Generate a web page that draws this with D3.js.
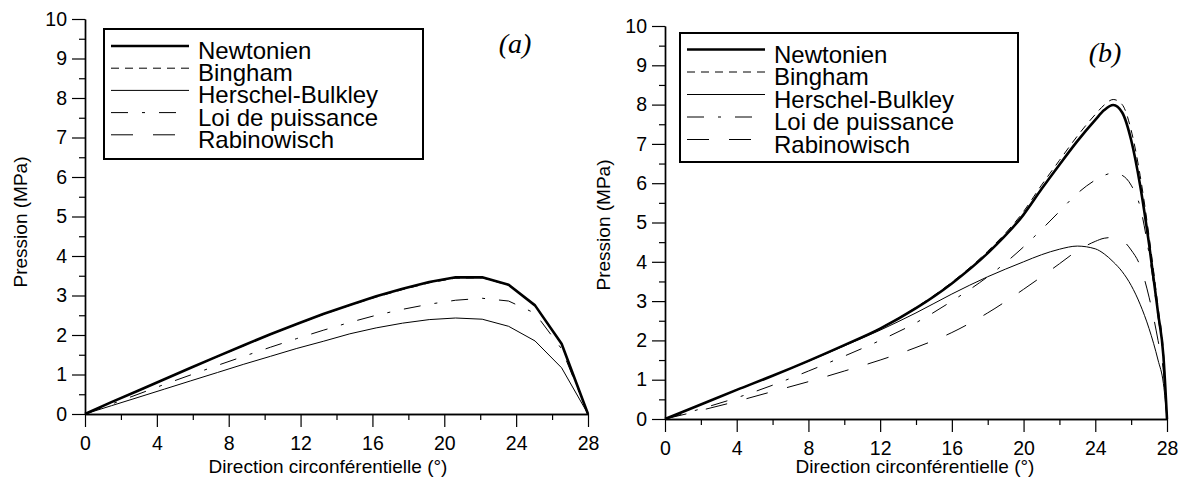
<!DOCTYPE html>
<html lang="fr">
<head>
<meta charset="UTF-8">
<title>Pression</title>
<script src="https://cdn.jsdelivr.net/npm/d3@7"></script>
<style>
  body { margin: 0; background: #fff; }
  svg { font-family: "Liberation Sans", Arial, sans-serif; }
</style>
</head>
<body>
<svg width="1185" height="490"></svg>
<script>
// ticks
const xMajorTicks = [0, 4, 8, 12, 16, 20, 24, 28];
const xMinorTicks = [2, 6, 10, 14, 18, 22, 26];
const yMajorTicks = [0, 1, 2, 3, 4, 5, 6, 7, 8, 9, 10];
const yMinorTicks = [0.5, 1.5, 2.5, 3.5, 4.5, 5.5, 6.5, 7.5, 8.5, 9.5];

const seriesNames = ["Newtonien", "Bingham", "Herschel-Bulkley", "Loi de puissance", "Rabinowisch"];

// (a)
const xA = [0, 1.47, 2.95, 4.42, 5.89, 7.37, 8.84, 10.32, 11.79, 13.26, 14.74, 16.21, 17.68, 19.16, 20.63, 22.11, 23.58, 25.05, 26.53, 28];
const newtA = [0, 0.30, 0.59, 0.88, 1.17, 1.46, 1.74, 2.02, 2.28, 2.53, 2.76, 2.98, 3.17, 3.34, 3.46, 3.46, 3.27, 2.75, 1.78, 0];
const binghamA = [0, 0.30, 0.59, 0.88, 1.17, 1.45, 1.73, 2.01, 2.27, 2.52, 2.75, 2.96, 3.15, 3.32, 3.44, 3.45, 3.26, 2.74, 1.77, 0];
const hbA = [0, 0.21, 0.42, 0.63, 0.84, 1.05, 1.26, 1.46, 1.66, 1.84, 2.03, 2.18, 2.30, 2.39, 2.43, 2.40, 2.22, 1.85, 1.17, 0];
const loiA = [0, 0.25, 0.50, 0.75, 0.99, 1.23, 1.46, 1.69, 1.91, 2.12, 2.32, 2.50, 2.65, 2.78, 2.88, 2.93, 2.86, 2.55, 1.65, 0];
const rabA = [0, 0.30, 0.59, 0.88, 1.17, 1.46, 1.74, 2.02, 2.28, 2.53, 2.76, 2.98, 3.17, 3.34, 3.46, 3.46, 3.27, 2.75, 1.78, 0];

// (b)
const xB = [0, 2, 4, 6, 8, 10, 12, 14, 16, 18, 20, 21, 22, 23, 24, 24.5, 25, 25.5, 26, 26.5, 27, 27.5, 27.8, 28];
const newtB = [0, 0.37, 0.74, 1.10, 1.48, 1.88, 2.30, 2.82, 3.45, 4.22, 5.20, 5.85, 6.47, 7.07, 7.61, 7.86, 7.99, 7.80, 7.10, 5.95, 4.45, 2.70, 1.60, 0];
const binghamB = [0, 0.37, 0.74, 1.10, 1.48, 1.88, 2.31, 2.84, 3.48, 4.27, 5.28, 5.95, 6.58, 7.20, 7.75, 7.99, 8.13, 8.00, 7.35, 6.20, 4.65, 2.85, 1.70, 0];
const hbB = [0, 0.37, 0.74, 1.10, 1.47, 1.86, 2.26, 2.70, 3.18, 3.62, 4.00, 4.18, 4.32, 4.40, 4.33, 4.20, 4.00, 3.75, 3.40, 2.92, 2.30, 1.50, 0.90, 0];
const loiB = [0, 0.26, 0.54, 0.86, 1.22, 1.60, 2.00, 2.45, 3.00, 3.62, 4.38, 4.82, 5.28, 5.74, 6.08, 6.20, 6.26, 6.20, 5.95, 5.40, 4.20, 2.60, 1.50, 0];
const rabB = [0, 0.22, 0.45, 0.70, 0.95, 1.22, 1.50, 1.82, 2.20, 2.70, 3.30, 3.62, 3.95, 4.28, 4.52, 4.60, 4.62, 4.55, 4.30, 3.90, 3.10, 2.00, 1.20, 0];

const styles = [
  { w: 2.6, dash: null },
  { w: 1, dash: "8,6" },
  { w: 1, dash: null },
  { w: 1, dash: "17,14,3,14" },
  { w: 1, dash: "22,20" }
];

const svg = d3.select("svg");

function drawPanel(p) {
  const x = d3.scaleLinear().domain([0, 28]).range([p.left, p.right]);
  const y = d3.scaleLinear().domain([0, 10]).range([p.bottom, p.top]);
  const g = svg.append("g");

  // axes
  const xg = g.append("g").attr("transform", "translate(0," + p.bottom + ")");
  xg.call(d3.axisBottom(x).tickValues(xMinorTicks).tickSize(6).tickSizeOuter(0).tickFormat(""));
  xg.append("g").call(d3.axisBottom(x).tickValues(xMajorTicks).tickSize(13).tickSizeOuter(0).tickPadding(9));
  const yg = g.append("g").attr("transform", "translate(" + p.left + ",0)");
  yg.call(d3.axisLeft(y).tickValues(yMinorTicks).tickSize(6).tickSizeOuter(0).tickFormat(""));
  yg.append("g").call(d3.axisLeft(y).tickValues(yMajorTicks).tickSize(13).tickSizeOuter(0).tickPadding(5));
  g.selectAll(".domain").attr("stroke", "#000").attr("stroke-width", 1.4);
  g.selectAll(".tick line").attr("stroke", "#000").attr("stroke-width", 1.2);
  g.selectAll(".tick text").attr("font-size", 19.5).attr("fill", "#000")
    .attr("font-family", "'Liberation Sans', Arial, sans-serif");

  // titles
  g.append("text").attr("x", p.xTitleX).attr("y", 473).attr("text-anchor", "middle")
    .attr("font-size", 19).text("Direction circonférentielle  (°)");
  g.append("text").attr("transform", "translate(" + p.yTitleX + "," + p.yTitleY + ") rotate(-90)")
    .attr("text-anchor", "middle").attr("font-size", 19).text("Pression (MPa)");

  // curves
  const line = d3.line().x(d => x(d[0])).y(d => y(d[1])).curve(p.curve);
  p.series.forEach((vals, i) => {
    g.append("path")
      .datum(p.xs.map((xv, j) => [xv, vals[j]]))
      .attr("fill", "none").attr("stroke", "#000")
      .attr("stroke-width", styles[i].w)
      .attr("stroke-dasharray", styles[i].dash)
      .attr("stroke-linejoin", "round")
      .attr("d", line);
  });

  // legend
  const lg = g.append("g");
  lg.append("rect").attr("x", p.leg.x).attr("y", p.leg.y).attr("width", p.leg.w).attr("height", p.leg.h)
    .attr("fill", "#fff").attr("stroke", "#000").attr("stroke-width", 2);
  seriesNames.forEach((name, i) => {
    const by = p.leg.y + p.leg.first + i * p.leg.step;
    lg.append("line").attr("x1", p.leg.x + 7).attr("x2", p.leg.x + 85)
      .attr("y1", by - 13).attr("y2", by - 13)
      .attr("stroke", "#000").attr("stroke-width", styles[i].w)
      .attr("stroke-dasharray", styles[i].dash);
    lg.append("text").attr("x", p.leg.x + 94).attr("y", by).attr("font-size", 24).text(name);
  });

  // panel tag
  g.append("text").attr("x", p.tag.x).attr("y", p.tag.y).attr("text-anchor", "middle")
    .attr("font-family", "'Liberation Serif', 'Times New Roman', serif")
    .attr("font-style", "italic").attr("font-size", 28).text(p.tag.t);
}

drawPanel({
  left: 85, right: 588, bottom: 414, top: 19,
  xs: xA, series: [newtA, binghamA, hbA, loiA, rabA], curve: d3.curveLinear,
  xTitleX: 328, yTitleX: 27, yTitleY: 222,
  leg: { x: 104, y: 29, w: 319, h: 130, first: 30, step: 22.2 },
  tag: { x: 515, y: 53, t: "(a)" }
});

drawPanel({
  left: 665, right: 1167, bottom: 419, top: 26,
  xs: xB, series: [newtB, binghamB, hbB, loiB, rabB], curve: d3.curveMonotoneX,
  xTitleX: 915, yTitleX: 610, yTitleY: 225,
  leg: { x: 680, y: 33, w: 338, h: 129, first: 29.5, step: 22.5 },
  tag: { x: 1105, y: 62, t: "(b)" }
});
</script>
</body>
</html>
